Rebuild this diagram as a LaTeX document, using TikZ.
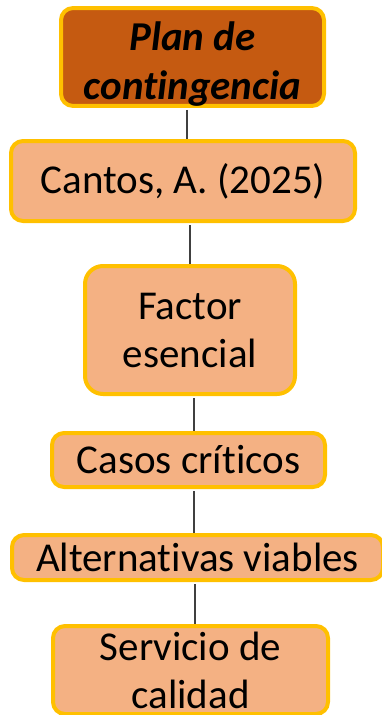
\documentclass[tikz,border=0pt]{standalone}
\usepackage{fontspec}
\setmainfont{Carlito}[Ligatures=NoCommon]
\definecolor{oscuro}{HTML}{C55A11}
\definecolor{claro}{HTML}{F4B183}
\definecolor{borde}{HTML}{FFC000}
\begin{document}
\begin{tikzpicture}[x=1pt,y=-1pt,
    caja/.style={draw=borde, line width=4pt, fill=claro, rounded corners=12pt,
        align=center, inner sep=0pt, font=\fontsize{41}{48}\selectfont},
    titulo/.style={caja, fill=oscuro, font=\fontsize{41}{49}\selectfont\bfseries\itshape},
    enlace/.style={draw=black!75, line width=1.2pt}]
    \clip (0,0) rectangle (382,715);
    \useasboundingbox (0,0) rectangle (382,715);

    \node at (192.5,57) [titulo, minimum width=263, minimum height=92] (plan) {\rule{0pt}{42pt}Plan de\\contingencia};
    \node at (183,181) [caja, minimum width=344, minimum height=80] (cantos) {Cantos, A. (2025)};
    \node at (190,330) [caja, minimum width=210, minimum height=128, rounded corners=18pt] (factor) {Factor\\esencial};
    \node at (188.5,460) [caja, minimum width=273, minimum height=54] (casos) {Casos críticos};
    \node at (197.5,557.5) [caja, minimum width=371, minimum height=45] (alternativas) {Alternativas viables};
    \node at (190.5,670) [caja, minimum width=275, minimum height=88] (servicio) {Servicio de\\calidad};

    \draw[enlace] ([xshift=-5.5pt]plan.south) ++(0,2) -- ([xshift=-5.5pt]plan.south |- cantos.north);
    \draw[enlace] ([xshift=7pt]cantos.south) ++(0,2) -- ([xshift=7pt]cantos.south |- factor.north);
    \draw[enlace] ([xshift=4pt]factor.south) ++(0,2) -- ([xshift=4pt]factor.south |- casos.north);
    \draw[enlace] ([xshift=5.5pt]casos.south) ++(0,2) -- ([xshift=5.5pt]casos.south |- alternativas.north);
    \draw[enlace] ([xshift=-2.5pt]alternativas.south) ++(0,2) -- ([xshift=-2.5pt]alternativas.south |- servicio.north);
\end{tikzpicture}
\end{document}
